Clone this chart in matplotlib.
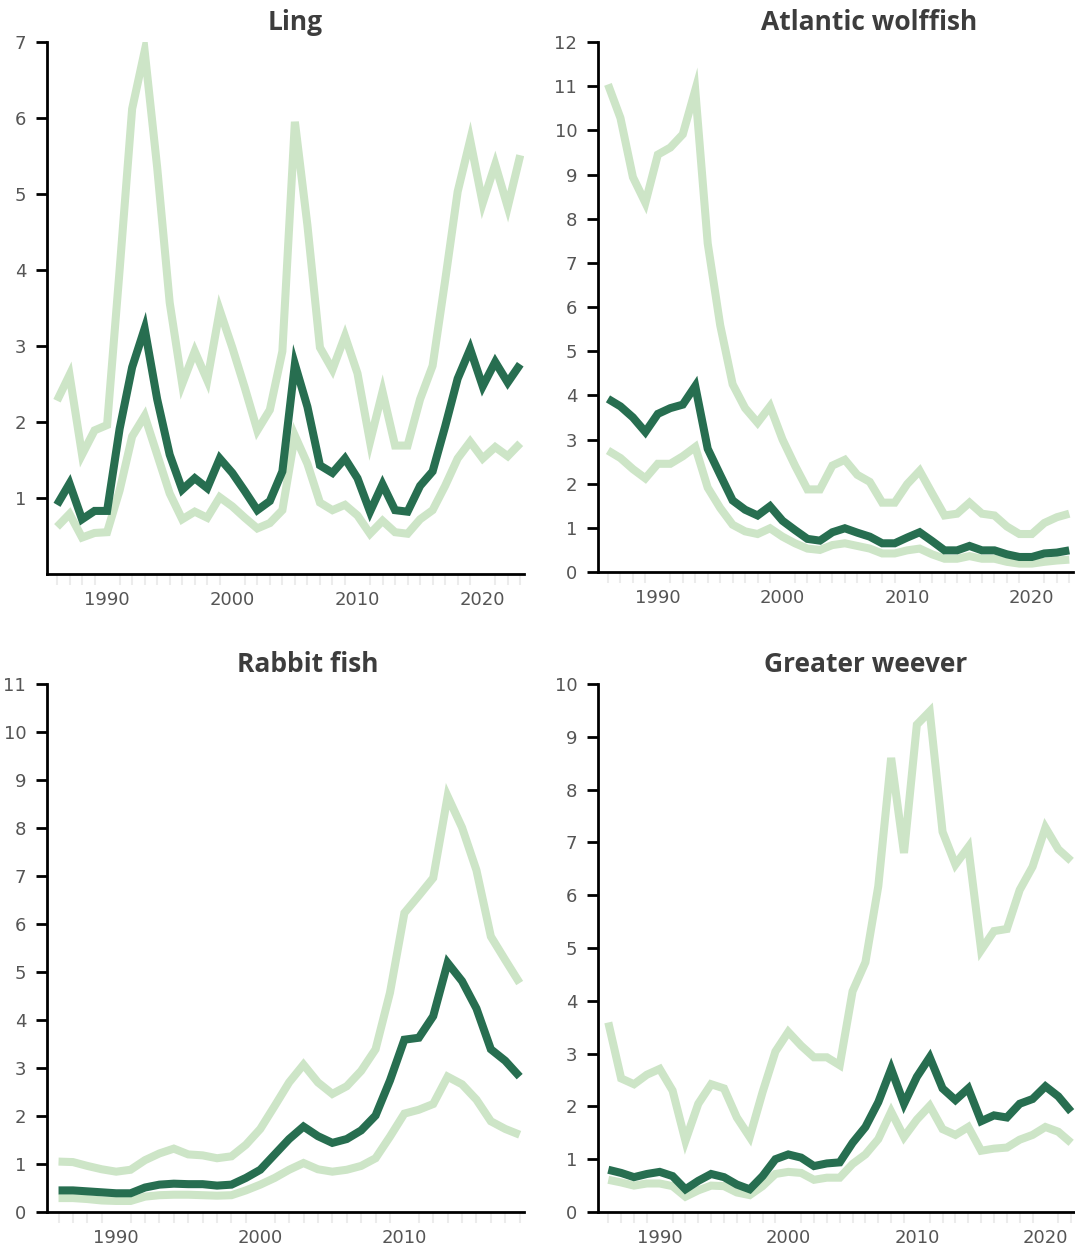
import matplotlib
matplotlib.use("Agg")
import matplotlib.pyplot as plt
from matplotlib.ticker import FixedLocator, NullFormatter

# ---- data -------------------------------------------------------------
years_ling = list(range(1986, 2024))
ling_upper = [2.28, 2.62, 1.57, 1.89, 1.96, 4.0, 6.12, 6.88, 5.35, 3.57,
              2.5, 2.93, 2.55, 3.47, 2.98, 2.45, 1.89, 2.16, 2.93, 5.95,
              4.59, 2.98, 2.69, 3.13, 2.64, 1.74, 2.40, 1.69, 1.69, 2.30,
              2.74, 3.86, 5.03, 5.71, 4.88, 5.39, 4.83, 5.51]
ling_mid = [0.91, 1.19, 0.72, 0.83, 0.83, 1.91, 2.72, 3.23, 2.30, 1.57,
            1.11, 1.26, 1.13, 1.52, 1.33, 1.09, 0.84, 0.96, 1.35, 2.76,
            2.20, 1.43, 1.33, 1.52, 1.26, 0.82, 1.18, 0.84, 0.82, 1.16,
            1.35, 1.94, 2.57, 2.96, 2.47, 2.79, 2.52, 2.76]
ling_lower = [0.62, 0.79, 0.48, 0.54, 0.55, 1.1, 1.81, 2.08, 1.57, 1.06,
              0.72, 0.82, 0.74, 1.01, 0.89, 0.74, 0.60, 0.67, 0.84, 1.82,
              1.45, 0.94, 0.84, 0.91, 0.77, 0.53, 0.70, 0.55, 0.53, 0.72,
              0.84, 1.16, 1.52, 1.74, 1.52, 1.67, 1.55, 1.72]

years_wolffish = list(range(1986, 2024))
wolffish_upper = [11.04, 10.28, 8.94, 8.36, 9.45, 9.61, 9.91, 10.91, 7.44, 5.59,
                  4.25, 3.71, 3.38, 3.75, 3.0, 2.41, 1.87, 1.87, 2.41, 2.54,
                  2.20, 2.04, 1.57, 1.57, 1.99, 2.29, 1.78, 1.28, 1.32, 1.57,
                  1.32, 1.28, 1.03, 0.86, 0.86, 1.11, 1.24, 1.32]
wolffish_mid = [3.92, 3.75, 3.50, 3.17, 3.58, 3.71, 3.79, 4.21, 2.79, 2.20,
                1.62, 1.41, 1.28, 1.49, 1.16, 0.95, 0.75, 0.71, 0.90, 0.99,
                0.89, 0.80, 0.65, 0.65, 0.78, 0.90, 0.70, 0.49, 0.49, 0.59,
                0.49, 0.49, 0.40, 0.34, 0.34, 0.42, 0.44, 0.49]
wolffish_lower = [2.75, 2.58, 2.33, 2.12, 2.45, 2.45, 2.62, 2.83, 1.91, 1.45,
                  1.07, 0.92, 0.86, 0.99, 0.80, 0.65, 0.53, 0.50, 0.61, 0.65,
                  0.59, 0.53, 0.42, 0.42, 0.49, 0.53, 0.40, 0.30, 0.30, 0.36,
                  0.30, 0.30, 0.23, 0.19, 0.19, 0.23, 0.26, 0.28]

years_rabbit = list(range(1986, 2019))
rabbit_upper = [1.05, 1.04, 0.96, 0.89, 0.84, 0.88, 1.08, 1.22, 1.32, 1.20,
                1.18, 1.12, 1.16, 1.40, 1.73, 2.21, 2.70, 3.07, 2.70, 2.46,
                2.62, 2.94, 3.39, 4.57, 6.23, 6.59, 6.96, 8.66, 8.01, 7.12,
                5.74, 5.25, 4.77]
rabbit_mid = [0.45, 0.45, 0.43, 0.41, 0.39, 0.39, 0.51, 0.57, 0.59, 0.58,
              0.58, 0.55, 0.57, 0.71, 0.88, 1.20, 1.52, 1.78, 1.58, 1.44,
              1.52, 1.70, 2.01, 2.74, 3.59, 3.63, 4.08, 5.19, 4.81, 4.24,
              3.39, 3.15, 2.82]
rabbit_lower = [0.29, 0.29, 0.27, 0.24, 0.23, 0.23, 0.32, 0.35, 0.36, 0.36,
                0.35, 0.34, 0.35, 0.45, 0.57, 0.71, 0.88, 1.02, 0.89, 0.84,
                0.88, 0.96, 1.12, 1.57, 2.05, 2.13, 2.25, 2.82, 2.66, 2.34,
                1.89, 1.73, 1.61]

years_weever = list(range(1986, 2023))
weever_upper = [3.59, 2.53, 2.42, 2.60, 2.71, 2.30, 1.35, 2.05, 2.42, 2.34,
                1.79, 1.42, 2.27, 3.04, 3.41, 3.15, 2.93, 2.93, 2.78, 4.18,
                4.73, 6.17, 8.60, 6.80, 9.23, 9.48, 7.20, 6.58, 6.91, 4.96,
                5.32, 5.36, 6.10, 6.54, 7.28, 6.87, 6.65]
weever_mid = [0.80, 0.74, 0.66, 0.72, 0.76, 0.68, 0.43, 0.59, 0.72, 0.66,
              0.52, 0.43, 0.68, 1.00, 1.09, 1.03, 0.87, 0.92, 0.94, 1.31,
              1.61, 2.08, 2.71, 2.05, 2.56, 2.93, 2.34, 2.12, 2.34, 1.72,
              1.83, 1.79, 2.05, 2.14, 2.38, 2.19, 1.90]
weever_lower = [0.61, 0.56, 0.50, 0.54, 0.54, 0.49, 0.29, 0.41, 0.50, 0.49,
                0.37, 0.32, 0.49, 0.72, 0.76, 0.74, 0.61, 0.65, 0.65, 0.91,
                1.09, 1.38, 1.90, 1.42, 1.75, 2.01, 1.57, 1.46, 1.61, 1.16,
                1.20, 1.22, 1.37, 1.46, 1.61, 1.52, 1.31]

titles = ["Ling", "Atlantic wolffish", "Rabbit fish", "Greater weever"]
decade_ticks = [1990, 2000, 2010, 2020]

# ---- style ------------------------------------------------------------
plt.rcParams["font.family"] = ["DejaVu Sans"]
DARK = "#276e50"
LIGHT = "#cde5c7"
TEXT = "#555555"
W, H = 1075, 1252

fig = plt.figure(figsize=(W / 100, H / 100), dpi=100)


def panel(rect_px, years, upper, mid, lower, yticks, ymax, title, title_x):
    l, t, r, b = rect_px
    ax = fig.add_axes([l / W, 1 - b / H, (r - l) / W, (b - t) / H])
    for series, col in ((upper, LIGHT), (lower, LIGHT), (mid, DARK)):
        ax.plot(years, series, color=col, lw=5.8,
                solid_joinstyle="miter", solid_capstyle="butt")
    ax.set_xlim(years[0] - 0.8, years[-1] + 0.3)
    ax.set_ylim(0, ymax)
    for s in ("top", "right"):
        ax.spines[s].set_visible(False)
    for s in ("left", "bottom"):
        ax.spines[s].set_linewidth(2)
        ax.spines[s].set_color("black")
    ax.yaxis.set_major_locator(FixedLocator(yticks))
    ax.set_yticklabels([str(v) for v in yticks])
    ax.tick_params(axis="y", length=8, width=2, color="black",
                   labelsize=13, labelcolor=TEXT, pad=7)
    ax.xaxis.set_major_locator(FixedLocator(decade_ticks))
    ax.set_xticklabels([str(v) for v in decade_ticks])
    ax.xaxis.set_minor_locator(FixedLocator(years))
    ax.xaxis.set_minor_formatter(NullFormatter())
    ax.tick_params(axis="x", which="major", length=0, labelsize=13,
                   labelcolor=TEXT, pad=12)
    ax.tick_params(axis="x", which="minor", length=8, width=1.5,
                   color="#ececec")
    fig.text(title_x / W, 1 - (t - 19) / H, title, ha="center", va="center",
             fontsize=19, fontweight="bold", color="#3d3d3d",
             family=["Open Sans", "DejaVu Sans"])
    return ax


panel((47, 42, 524, 574), years_ling, ling_upper, ling_mid, ling_lower,
      list(range(1, 8)), 7, titles[0], 295)
panel((598, 42, 1073, 572), years_wolffish, wolffish_upper, wolffish_mid,
      wolffish_lower, list(range(0, 13)), 12, titles[1], 869)
panel((47, 684, 524, 1212), years_rabbit, rabbit_upper, rabbit_mid,
      rabbit_lower, list(range(0, 12)), 11, titles[2], 308)
panel((598, 684, 1075, 1212), years_weever, weever_upper, weever_mid,
      weever_lower, list(range(0, 11)), 10, titles[3], 866)

fig.savefig("out.png", dpi=100)
